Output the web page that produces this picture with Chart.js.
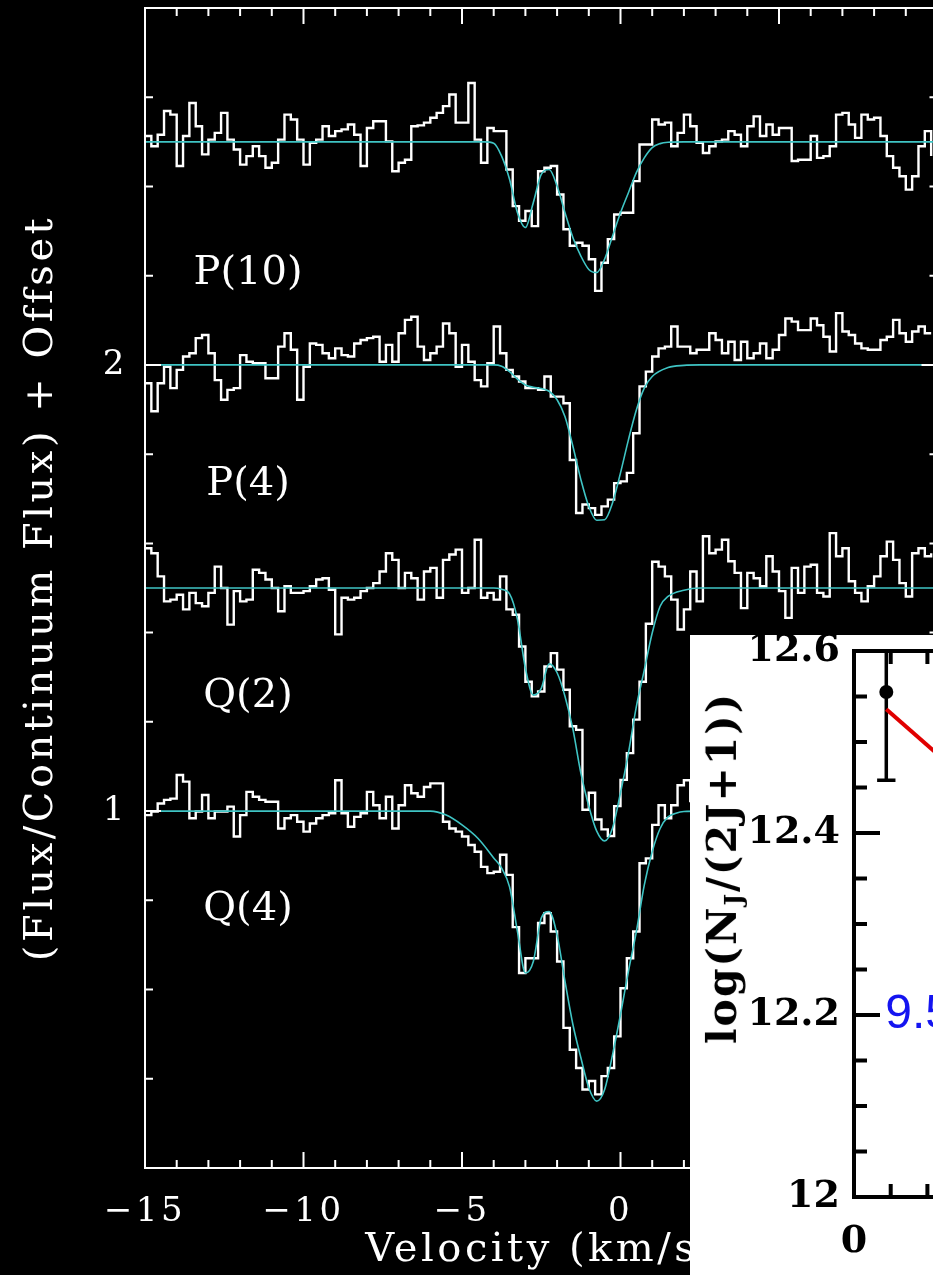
<!DOCTYPE html>
<html>
<head>
<meta charset="utf-8">
<script src="https://cdn.jsdelivr.net/npm/chart.js@4.4.1/dist/chart.umd.min.js"></script>
<style>
html, body { margin: 0; padding: 0; background: #000; overflow: hidden; width: 933px; height: 1275px; }
#main { position: absolute; left: 0; top: 0; }
#inset { position: absolute; left: 690px; top: 635px; background: #fff; }
#insetTitle { position: absolute; left: 723px; top: 868px; transform: translate(-50%, -50%) rotate(-90deg);
  font: bold 41px "DejaVu Serif"; letter-spacing: 2px; color: #000; white-space: nowrap; }
#insetTitle sub { font-size: 0.6em; vertical-align: -0.25em; }
</style>
</head>
<body>
<canvas id="main" width="950" height="1275"></canvas>
<canvas id="inset" width="540" height="640"></canvas>
<div id="insetTitle">log(N<sub>J</sub>/(2J+1))</div>
<script>
// bin left edges (km/s)
const velocity = [
  -15.0,-14.8,-14.6,-14.4,-14.2,-14.0,-13.8,-13.6,-13.4,-13.2,
  -13.0,-12.8,-12.6,-12.4,-12.2,-12.0,-11.8,-11.6,-11.4,-11.2,
  -11.0,-10.8,-10.6,-10.4,-10.2,-10.0,-9.8,-9.6,-9.4,-9.2,
  -9.0,-8.8,-8.6,-8.4,-8.2,-8.0,-7.8,-7.6,-7.4,-7.2,
  -7.0,-6.8,-6.6,-6.4,-6.2,-6.0,-5.8,-5.6,-5.4,-5.2,
  -5.0,-4.8,-4.6,-4.4,-4.2,-4.0,-3.8,-3.6,-3.4,-3.2,
  -3.0,-2.8,-2.6,-2.4,-2.2,-2.0,-1.8,-1.6,-1.4,-1.2,
  -1.0,-0.8,-0.6,-0.4,-0.2,0.0,0.2,0.4,0.6,0.8,
  1.0,1.2,1.4,1.6,1.8,2.0,2.2,2.4,2.6,2.8,
  3.0,3.2,3.4,3.6,3.8,4.0,4.2,4.4,4.6,4.8,
  5.0,5.2,5.4,5.6,5.8,6.0,6.2,6.4,6.6,6.8,
  7.0,7.2,7.4,7.6,7.8,8.0,8.2,8.4,8.6,8.8,
  9.0,9.2,9.4,9.6,9.8
];

// normalized flux + offset
const fluxP10 = [
  2.513,2.490,2.516,2.569,2.561,2.446,2.513,2.587,2.535,2.472,
  2.505,2.520,2.565,2.505,2.483,2.449,2.468,2.490,2.468,2.442,
  2.453,2.505,2.561,2.550,2.505,2.449,2.498,2.505,2.535,2.513,
  2.524,2.528,2.539,2.516,2.446,2.531,2.546,2.546,2.501,2.434,
  2.453,2.460,2.535,2.537,2.543,2.554,2.565,2.580,2.606,2.543,
  2.543,2.632,2.505,2.453,2.531,2.524,2.524,2.438,2.356,2.323,
  2.345,2.311,2.434,2.442,2.446,2.382,2.304,2.267,2.274,2.267,
  2.237,2.166,2.229,2.282,2.337,2.341,2.341,2.412,2.494,2.494,
  2.550,2.539,2.543,2.490,2.520,2.561,2.535,2.498,2.475,2.490,
  2.501,2.505,2.524,2.516,2.490,2.535,2.557,2.513,2.539,2.516,
  2.531,2.531,2.457,2.460,2.460,2.513,2.464,2.468,2.490,2.561,
  2.565,2.539,2.509,2.561,2.550,2.554,2.513,2.468,2.442,2.423,
  2.393,2.423,2.490,2.524,2.468
];
const fluxP4 = [
  1.959,1.896,1.959,1.996,1.948,1.989,2.019,2.026,2.060,2.067,
  2.026,1.966,1.922,1.944,1.948,2.022,2.007,2.004,2.004,1.970,
  1.970,2.041,2.071,2.034,1.922,1.996,2.048,2.045,2.026,2.015,
  2.037,2.022,2.019,2.048,2.056,2.060,2.063,2.007,2.045,2.007,
  2.071,2.101,2.108,2.041,2.011,2.026,2.041,2.093,2.071,1.996,
  2.045,2.007,1.966,1.952,2.004,2.086,2.026,1.989,1.974,1.963,
  1.948,1.948,1.944,1.974,1.929,1.929,1.914,1.787,1.668,1.687,
  1.679,1.664,1.683,1.698,1.735,1.739,1.758,1.847,1.952,1.985,
  2.019,2.037,2.041,2.086,2.041,2.041,2.026,2.034,2.034,2.071,
  2.056,2.026,2.052,2.011,2.052,2.015,2.026,2.048,2.015,2.034,
  2.067,2.104,2.097,2.078,2.078,2.104,2.089,2.063,2.030,2.116,
  2.075,2.067,2.048,2.037,2.034,2.034,2.056,2.063,2.101,2.071,
  2.052,2.075,2.086,2.071,2.071
];
const fluxQ2 = [
  1.589,1.578,1.526,1.470,1.474,1.485,1.452,1.489,1.466,1.459,
  1.489,1.548,1.500,1.418,1.493,1.470,1.474,1.541,1.534,1.519,
  1.500,1.448,1.504,1.489,1.489,1.493,1.504,1.519,1.522,1.496,
  1.396,1.478,1.474,1.478,1.493,1.500,1.511,1.537,1.578,1.563,
  1.500,1.534,1.522,1.474,1.537,1.545,1.478,1.563,1.575,1.586,
  1.489,1.500,1.608,1.478,1.489,1.474,1.526,1.452,1.440,1.369,
  1.290,1.257,1.268,1.324,1.354,1.317,1.272,1.190,1.182,1.003,
  1.041,0.981,0.959,0.944,1.011,1.070,1.130,1.205,1.290,1.420,
  1.559,1.548,1.526,1.474,1.407,1.452,1.537,1.470,1.616,1.578,
  1.586,1.608,1.560,1.534,1.455,1.534,1.522,1.504,1.571,1.537,
  1.493,1.433,1.545,1.489,1.548,1.552,1.489,1.481,1.623,1.571,
  1.589,1.515,1.489,1.470,1.504,1.526,1.571,1.604,1.563,1.511,
  1.481,1.578,1.589,1.571,1.578
];
// Q(4) only read up to where the inset covers it
const fluxQ4 = [
  0.991,0.999,1.017,1.025,1.028,1.081,1.066,0.984,0.999,1.036,
  0.984,0.999,0.999,1.010,0.943,0.991,1.043,1.032,1.025,1.021,
  1.021,0.961,0.984,0.991,0.976,0.954,0.972,0.984,0.991,0.995,
  1.069,0.995,0.965,0.987,0.995,1.043,1.013,0.984,1.032,0.961,
  1.013,1.058,1.040,1.032,1.054,1.062,1.062,0.976,0.961,0.954,
  0.943,0.924,0.909,0.875,0.861,0.864,0.902,0.857,0.740,0.637,
  0.670,0.670,0.749,0.771,0.730,0.663,0.514,0.465,0.424,0.376,
  0.395,0.365,0.406,0.424,0.495,0.603,0.670,0.730,0.883,0.894,
  0.969,1.013,0.984,1.013,1.058,1.069,1.020
];

// profile fits
const fitVelP10 = [-15,-4.3,-4.0,-3.75,-3.5,-3.25,-3.0,-2.75,-2.5,-2.25,-2.0,-1.75,-1.5,-1.25,-1.0,-0.75,-0.5,-0.25,0,0.25,0.5,0.75,1.0,1.25,1.5,2.0,10];
const fitP10    = [2.5,2.5,2.497,2.468,2.416,2.341,2.308,2.364,2.427,2.438,2.401,2.341,2.285,2.244,2.214,2.207,2.237,2.289,2.341,2.386,2.431,2.464,2.487,2.496,2.499,2.5,2.5];
const fitVelP4  = [-15,-4.0,-3.75,-3.5,-3.25,-3.0,-2.75,-2.5,-2.25,-2.0,-1.75,-1.5,-1.25,-1.0,-0.75,-0.5,-0.25,0,0.25,0.5,0.75,1.0,1.5,2.0,2.5,10];
const fitP4     = [2.0,2.0,1.997,1.985,1.968,1.955,1.950,1.947,1.941,1.922,1.884,1.817,1.743,1.683,1.652,1.653,1.691,1.758,1.832,1.899,1.948,1.974,1.994,1.999,2.0,2.0];
const fitVelQ2  = [-15,-4.0,-3.75,-3.5,-3.25,-3.0,-2.75,-2.5,-2.25,-2.0,-1.75,-1.5,-1.25,-1.0,-0.75,-0.5,-0.25,0,0.25,0.5,0.75,1.0,1.25,1.5,2.0,2.5,10];
const fitQ2     = [1.5,1.5,1.497,1.487,1.43,1.32,1.26,1.275,1.33,1.31,1.257,1.183,1.085,1.011,0.955,0.933,0.962,1.041,1.130,1.234,1.316,1.399,1.459,1.481,1.495,1.5,1.5];
const fitVelQ4  = [-15,-6.0,-5.5,-5.0,-4.5,-4.0,-3.75,-3.5,-3.25,-3.0,-2.75,-2.5,-2.25,-2.0,-1.75,-1.5,-1.25,-1.0,-0.75,-0.5,-0.25,0,0.25,0.5,0.75,1.0,1.25,1.5,1.75,2.0,2.5,10];
const fitQ4     = [1.0,1.0,0.991,0.969,0.939,0.895,0.872,0.83,0.73,0.637,0.663,0.760,0.775,0.722,0.618,0.521,0.447,0.380,0.350,0.376,0.454,0.544,0.641,0.730,0.834,0.909,0.961,0.987,0.995,0.999,1.0,1.0];

const lineNames = ['P(10)', 'P(4)', 'Q(2)', 'Q(4)'];
const yTickLabels = [1, 2];

// inset: excitation diagram
const insetX    = [0.88];
const insetLogN = [12.555];
const insetErr  = [0.097];
const insetFitX = [0.88, 3.0];
const insetFitY = [12.536, 12.461];
const insetNote = '9.5';

const pts = (xs, ys) => ys.map((y, i) => ({x: xs[i], y: y}));

// fixed plot box: drop Chart.js label-overflow padding
const fixX = h => s => { s.height = h; s.paddingLeft = 0; s.paddingRight = 0; };
const fixY = w => s => { s.width = w; s.paddingTop = 0; s.paddingBottom = 0; };

const spacing = {
  id: 'spacing',
  beforeDraw(chart, args, o) { chart.ctx.letterSpacing = o.px + 'px'; },
  beforeDatasetsDraw(chart) { chart.ctx.letterSpacing = '0px'; }
};

const frameTicks = {
  id: 'frameTicks',
  afterDraw(chart, args, o) {
    const {ctx, chartArea: a, scales: {x, y}} = chart;
    const isMajor = (v, m) => Math.abs(v / m - Math.round(v / m)) < 1e-6;
    ctx.save();
    ctx.strokeStyle = o.color;
    ctx.lineWidth = o.width;
    ctx.beginPath();
    ctx.rect(a.left, a.top, a.right - a.left, a.bottom - a.top);
    x.ticks.forEach(t => {
      const px = x.getPixelForValue(t.value);
      const len = isMajor(t.value, o.xMajor) ? o.xLong : o.xShort;
      ctx.moveTo(px, a.bottom); ctx.lineTo(px, a.bottom - len);
      ctx.moveTo(px, a.top); ctx.lineTo(px, a.top + len);
    });
    y.ticks.forEach(t => {
      const py = y.getPixelForValue(t.value);
      const len = isMajor(t.value, o.yMajor) ? o.yLong : o.yShort;
      ctx.moveTo(a.left, py); ctx.lineTo(a.left + len, py);
      ctx.moveTo(a.right, py); ctx.lineTo(a.right - len, py);
    });
    ctx.stroke();
    ctx.restore();
  }
};

const lineLabels = {
  id: 'lineLabels',
  afterDatasetsDraw(chart, args, o) {
    const {ctx, scales: {x, y}} = chart;
    ctx.save();
    ctx.fillStyle = '#fff';
    ctx.font = '40px "DejaVu Serif"';
    ctx.textAlign = 'center';
    ctx.textBaseline = 'middle';
    lineNames.forEach((name, i) => {
      ctx.fillText(name, x.getPixelForValue(o.at), y.getPixelForValue(o.levels[i]));
    });
    ctx.restore();
  }
};

const serif = {family: 'DejaVu Serif', size: 34};

new Chart(document.getElementById('main'), {
  type: 'line',
  data: {
    datasets: [
      {data: pts(fitVelP10, fitP10), borderColor: '#3fc4c4', borderWidth: 1.6, cubicInterpolationMode: 'monotone', order: 0},
      {data: pts(fitVelP4, fitP4), borderColor: '#3fc4c4', borderWidth: 1.6, cubicInterpolationMode: 'monotone', order: 0},
      {data: pts(fitVelQ2, fitQ2), borderColor: '#3fc4c4', borderWidth: 1.6, cubicInterpolationMode: 'monotone', order: 0},
      {data: pts(fitVelQ4, fitQ4), borderColor: '#3fc4c4', borderWidth: 1.6, cubicInterpolationMode: 'monotone', order: 0},
      {data: pts(velocity, fluxP10), borderColor: '#fff', borderWidth: 2.4, stepped: true, order: 1},
      {data: pts(velocity, fluxP4), borderColor: '#fff', borderWidth: 2.4, stepped: true, order: 1},
      {data: pts(velocity, fluxQ2), borderColor: '#fff', borderWidth: 2.4, stepped: true, order: 1},
      {data: pts(velocity, fluxQ4), borderColor: '#fff', borderWidth: 2.4, stepped: true, order: 1}
    ]
  },
  options: {
    responsive: false,
    animation: false,
    layout: {padding: {top: 8, right: 12.5, left: 0, bottom: 0}},
    elements: {point: {radius: 0}},
    plugins: {
      legend: {display: false},
      tooltip: {enabled: false},
      spacing: {px: 3.5},
      frameTicks: {color: '#fff', width: 2, xMajor: 5, xLong: 16, xShort: 8, yMajor: 1, yLong: 16, yShort: 8},
      lineLabels: {at: -11.75, levels: [2.205, 1.732, 1.257, 0.78]}
    },
    scales: {
      x: {
        type: 'linear', min: -15, max: 10,
        afterFit: fixX(107),
        grid: {display: false, drawTicks: false},
        border: {display: false},
        ticks: {
          stepSize: 1, autoSkip: false, maxRotation: 0, color: '#fff', font: serif, padding: 24,
          callback: v => (v % 5 === 0 && v < 10) ? String(v).replace('-', '\u2212') : ''
        },
        title: {display: true, text: 'Velocity (km/s)', color: '#fff', font: {family: 'DejaVu Serif', size: 40}, padding: {top: 0, bottom: 0}}
      },
      y: {
        type: 'linear', min: 0.2, max: 2.8,
        afterFit: fixY(145),
        grid: {display: false, drawTicks: false},
        border: {display: false},
        ticks: {
          stepSize: 0.2, autoSkip: false, color: '#fff', font: serif, padding: 17,
          callback: v => yTickLabels.some(t => Math.abs(v - t) < 1e-6) ? String(Math.round(v)) : ''
        },
        title: {display: true, text: '(Flux/Continuum Flux) + Offset', color: '#fff', font: {family: 'DejaVu Serif', size: 40}, padding: {top: 18, bottom: 0}}
      }
    }
  },
  plugins: [spacing, frameTicks, lineLabels]
});

const errorBars = {
  id: 'errorBars',
  beforeDatasetsDraw(chart, args, o) {
    const {ctx, chartArea: a, scales: {x, y}} = chart;
    ctx.save();
    ctx.beginPath();
    ctx.rect(a.left, a.top, a.right - a.left, a.bottom - a.top);
    ctx.clip();
    ctx.strokeStyle = '#000';
    ctx.lineWidth = 3.5;
    ctx.beginPath();
    insetX.forEach((xv, i) => {
      const px = x.getPixelForValue(xv);
      const lo = y.getPixelForValue(insetLogN[i] - insetErr[i]);
      const hi = y.getPixelForValue(insetLogN[i] + insetErr[i]);
      const c0 = x.getPixelForValue(xv - o.cap), c1 = x.getPixelForValue(xv + o.cap);
      ctx.moveTo(px, lo); ctx.lineTo(px, hi);
      ctx.moveTo(c0, lo); ctx.lineTo(c1, lo);
      ctx.moveTo(c0, hi); ctx.lineTo(c1, hi);
    });
    ctx.stroke();
    ctx.restore();
  },
  afterDatasetsDraw(chart, args, o) {
    const {ctx, scales: {x, y}} = chart;
    ctx.save();
    ctx.fillStyle = '#1414f0';
    ctx.font = '48px "Liberation Sans"';
    ctx.textAlign = 'left';
    ctx.textBaseline = 'middle';
    ctx.fillText(insetNote, x.getPixelForValue(o.noteX), y.getPixelForValue(o.noteY));
    ctx.restore();
  }
};

const boldSerif = {family: 'DejaVu Serif', size: 38, weight: 'bold'};

new Chart(document.getElementById('inset'), {
  type: 'line',
  data: {
    datasets: [
      {data: pts(insetX, insetLogN), showLine: false, pointRadius: 7, pointBackgroundColor: '#000', pointBorderWidth: 0, order: 0},
      {data: pts(insetFitX, insetFitY), borderColor: '#e00000', borderWidth: 4, pointRadius: 0, order: 1}
    ]
  },
  options: {
    responsive: false,
    animation: false,
    layout: {padding: {top: 16, right: 9, left: 0, bottom: 0}},
    plugins: {
      legend: {display: false},
      tooltip: {enabled: false},
      frameTicks: {color: '#000', width: 4, xMajor: 5, xLong: 13, xShort: 13, yMajor: 0.2, yLong: 26, yShort: 13},
      errorBars: {cap: 0.25, noteX: 0.85, noteY: 12.2}
    },
    scales: {
      x: {
        type: 'linear', min: 0, max: 10,
        afterFit: fixX(78),
        grid: {display: false, drawTicks: false},
        border: {display: false},
        ticks: {stepSize: 1, autoSkip: false, maxRotation: 0, color: '#000', font: boldSerif, padding: 22,
          callback: v => v === 0 ? '0' : ''}
      },
      y: {
        type: 'linear', min: 12, max: 12.6,
        afterFit: fixY(164),
        grid: {display: false, drawTicks: false},
        border: {display: false},
        ticks: {stepSize: 0.05, autoSkip: false, color: '#000', font: boldSerif, padding: 14,
          callback: v => Math.abs(v * 5 - Math.round(v * 5)) < 1e-6 ? String(Math.round(v * 10) / 10) : ''}
      }
    }
  },
  plugins: [frameTicks, errorBars]
});
</script>
</body>
</html>
